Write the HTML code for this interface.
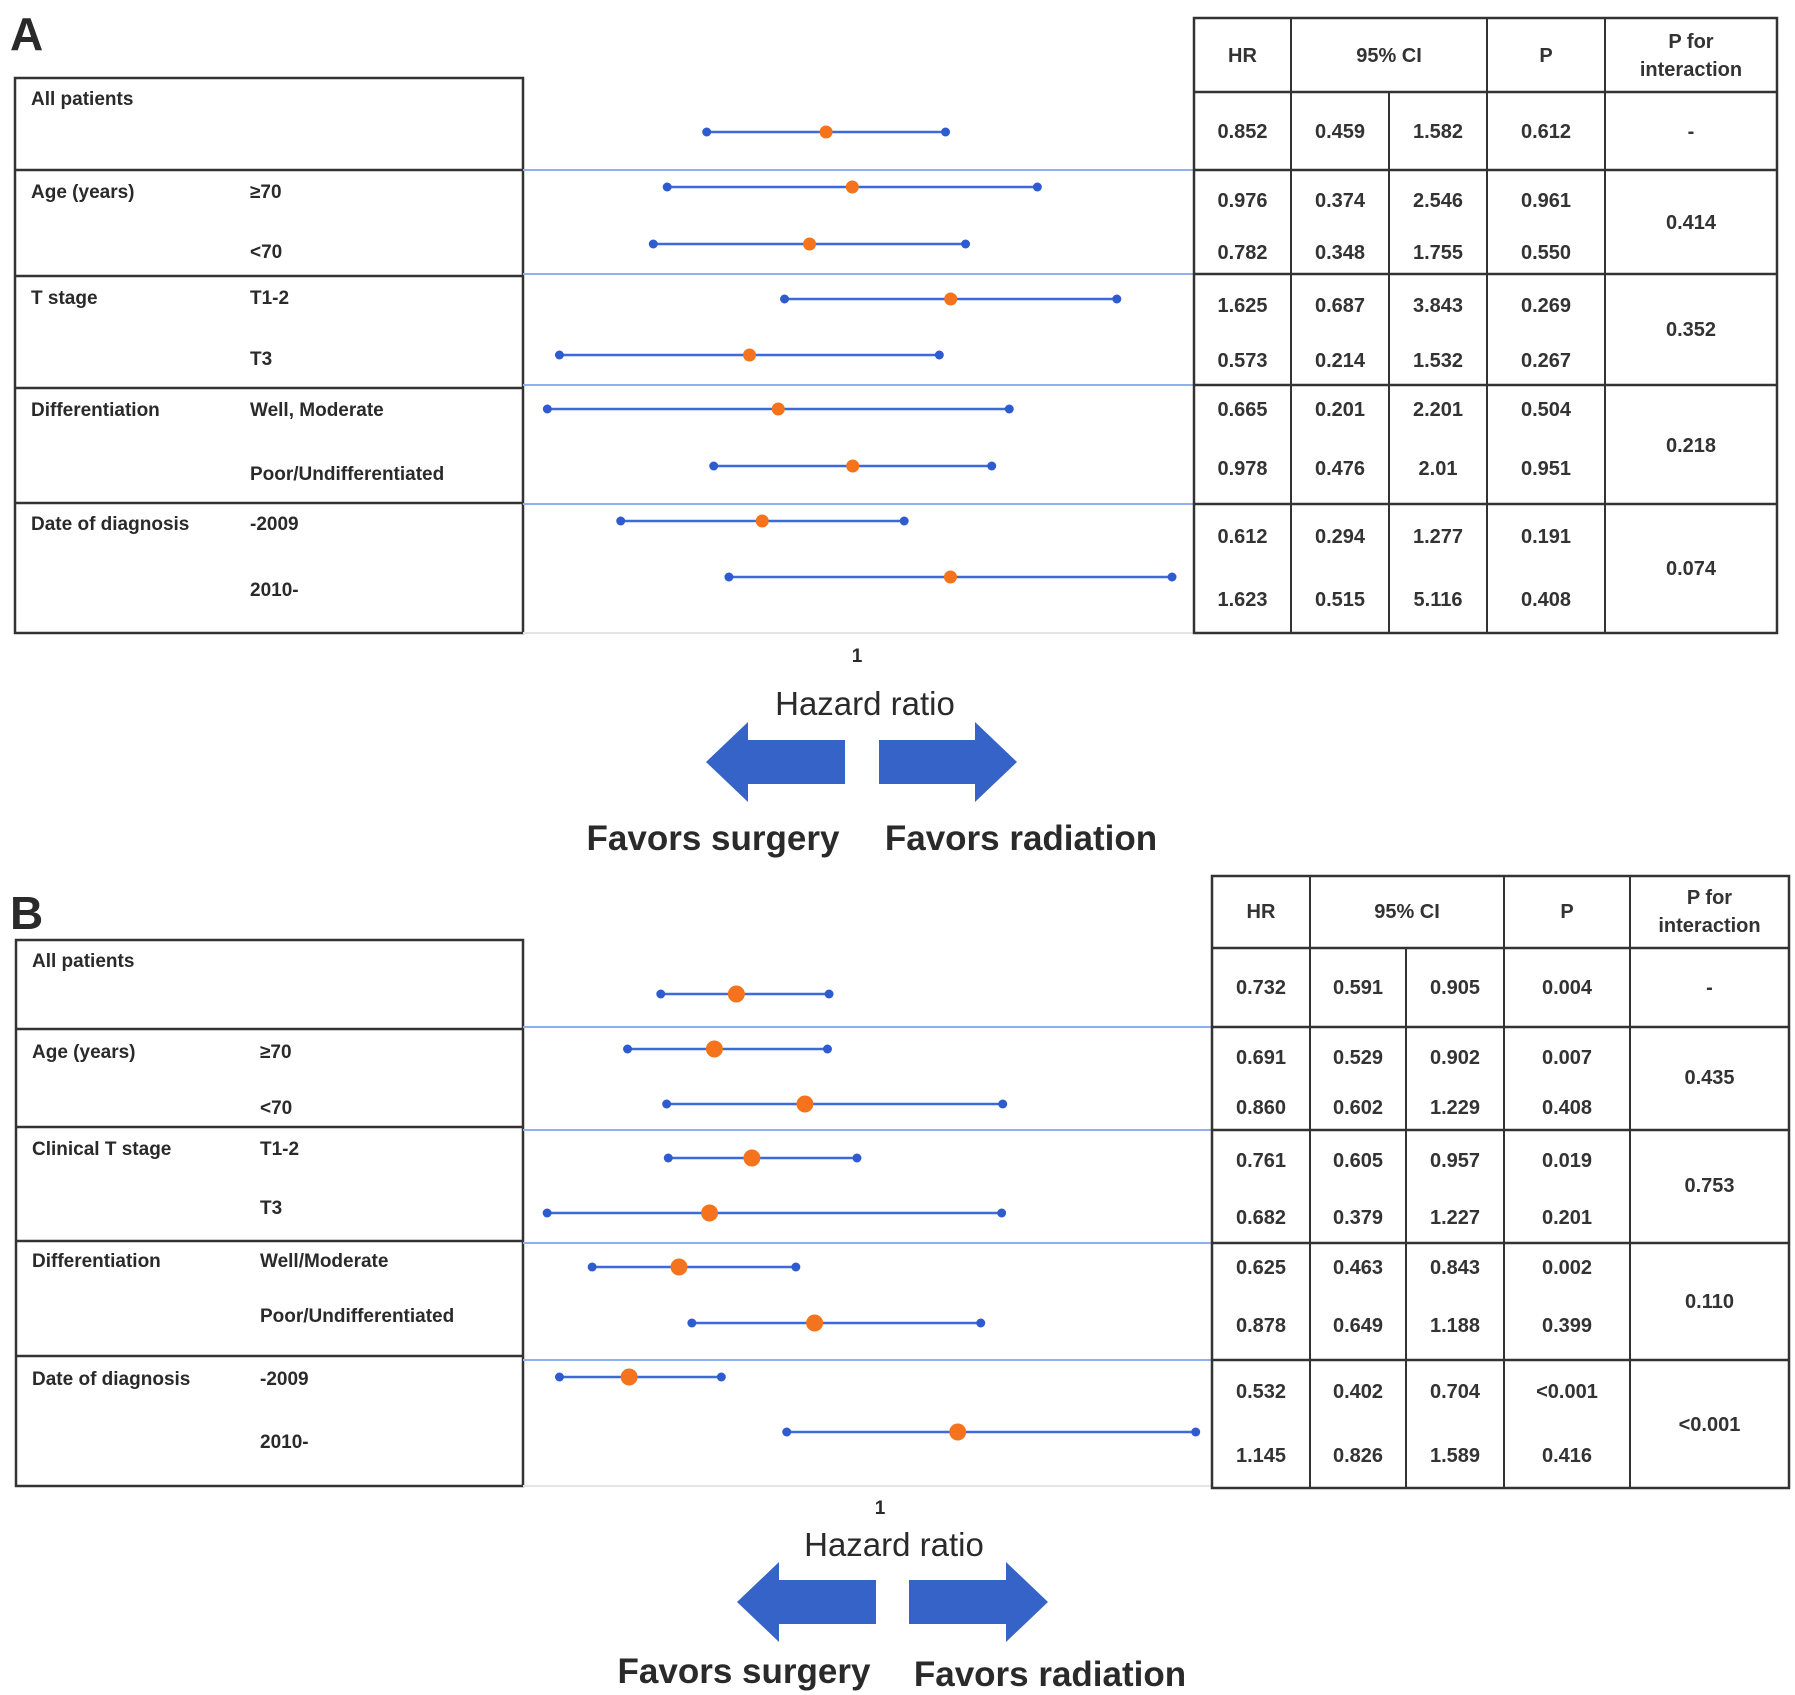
<!DOCTYPE html>
<html><head><meta charset="utf-8"><style>
html,body{margin:0;padding:0;background:#fff;}
svg{display:block;}
text{font-family:"Liberation Sans Narrow","Liberation Sans",sans-serif;fill:#2a2a2a;}
.t{font-size:19px;font-weight:bold;}
.v{font-size:20px;text-anchor:middle;font-weight:bold;fill:#333;}
</style></head><body>
<svg id="fig" width="1795" height="1695" viewBox="0 0 1795 1695" xmlns="http://www.w3.org/2000/svg"></svg>
<script>
// Panel A data
const aHR = [0.852, 0.976, 0.782, 1.625, 0.573, 0.665, 0.978, 0.612, 1.623];
const aLo = [0.459, 0.374, 0.348, 0.687, 0.214, 0.201, 0.476, 0.294, 0.515];
const aHi = [1.582, 2.546, 1.755, 3.843, 1.532, 2.201, 2.01, 1.277, 5.116];
const aP = ["0.612","0.961","0.550","0.269","0.267","0.504","0.951","0.191","0.408"];
const aPint = ["-","0.414","0.352","0.218","0.074"];
const aHRtxt = ["0.852","0.976","0.782","1.625","0.573","0.665","0.978","0.612","1.623"];
const aLoTxt = ["0.459","0.374","0.348","0.687","0.214","0.201","0.476","0.294","0.515"];
const aHiTxt = ["1.582","2.546","1.755","3.843","1.532","2.201","2.01","1.277","5.116"];
const aGroups = ["All patients","Age (years)","T stage","Differentiation","Date of diagnosis"];
const aSubs = ["≥70","<70","T1-2","T3","Well, Moderate","Poor/Undifferentiated","-2009","2010-"];
// Panel B data
const bHR = [0.732, 0.691, 0.860, 0.761, 0.682, 0.625, 0.878, 0.532, 1.145];
const bLo = [0.591, 0.529, 0.602, 0.605, 0.379, 0.463, 0.649, 0.402, 0.826];
const bHi = [0.905, 0.902, 1.229, 0.957, 1.227, 0.843, 1.188, 0.704, 1.589];
const bP = ["0.004","0.007","0.408","0.019","0.201","0.002","0.399","<0.001","0.416"];
const bPint = ["-","0.435","0.753","0.110","<0.001"];
const bHRtxt = ["0.732","0.691","0.860","0.761","0.682","0.625","0.878","0.532","1.145"];
const bLoTxt = ["0.591","0.529","0.602","0.605","0.379","0.463","0.649","0.402","0.826"];
const bHiTxt = ["0.905","0.902","1.229","0.957","1.227","0.843","1.188","0.704","1.589"];
const bGroups = ["All patients","Age (years)","Clinical T stage","Differentiation","Date of diagnosis"];
const bSubs = ["≥70","<70","T1-2","T3","Well/Moderate","Poor/Undifferentiated","-2009","2010-"];

const NS="http://www.w3.org/2000/svg";
const svg=document.getElementById('fig');
function mk(tag,attrs,parent,txt){const e=document.createElementNS(NS,tag);for(const k in attrs)e.setAttribute(k,attrs[k]);if(txt!==undefined)e.textContent=txt;(parent||svg).appendChild(e);return e;}
function line(x1,y1,x2,y2,c,w,p){return mk('line',{x1,y1,x2,y2,stroke:c,'stroke-width':w},p);}
function txt(x,y,s,cls,p,extra){const e=mk('text',Object.assign({x,y,class:cls},extra||{}),p,s);return e;}

function panel(cfg){
  const g=mk('g',{});
  
  
  const L=txt(cfg.letterX,cfg.letterY,cfg.letter,'',g,{'font-size':'46','font-family':'Liberation Sans, sans-serif','font-weight':'bold','fill':'#111'});
  
  
  const lt=mk('g',{},g);
  
  
  const lb=cfg.leftRows;
  mk('rect',{x:cfg.lx0,y:lb[0],width:cfg.lx1-cfg.lx0,height:lb[lb.length-1]-lb[0],fill:'none',stroke:'#333','stroke-width':2.5},lt);
  for(let i=1;i<lb.length-1;i++)line(cfg.lx0,lb[i],cfg.lx1,lb[i],'#333',2.5,lt);
  cfg.groups.forEach((s,i)=>{const t=txt(cfg.labX,cfg.groupY[i],s,'t',lt);});
  cfg.subs.forEach((s,i)=>{const t=txt(cfg.subX,cfg.subY[i],s,'t',lt);});
  cfg.sepY.forEach(y=>line(cfg.lx1,y,cfg.rx[0],y,'#8fb0ee',2,g));
  line(cfg.lx1,lb[lb.length-1],cfg.rx[0],lb[lb.length-1],'#e4e4e4',2,g);
  const fm=mk('g',{},g);
  
  
  cfg.hr.forEach((v,i)=>{
    const y=cfg.rowY[i],xl=cfg.xs(cfg.lo[i]),xh=cfg.xs(cfg.hi[i]),xm=cfg.xs(v);
    const l=line(xl,y,xh,y,'#3d6ad8',2.5,fm);
    
    
    mk('circle',{cx:xl,cy:y,r:4.5,fill:'#2f5bd0'},fm);
    mk('circle',{cx:xh,cy:y,r:4.5,fill:'#2f5bd0'},fm);
    const c=mk('circle',{cx:xm,cy:y,r:cfg.pr,fill:'#f5731c'},fm);
    
    
  });
  const one=txt(cfg.xs(1),cfg.oneY,'1','t',g,{'text-anchor':'middle'});
  
  
  const hz=txt(cfg.hzX,cfg.hzY,'Hazard ratio','',g,{'text-anchor':'middle','font-size':'33','font-family':'DejaVu Sans, sans-serif','fill':'#444'});
  
  
  const a=cfg.arr;
  const la=mk('polygon',{points:`${a.lx1},${a.y0+18} ${a.lx0+42},${a.y0+18} ${a.lx0+42},${a.y0} ${a.lx0},${a.ym} ${a.lx0+42},${a.y1} ${a.lx0+42},${a.y1-18} ${a.lx1},${a.y1-18}`,fill:'#3563c8'},g);
  
  
  const ra=mk('polygon',{points:`${a.rx0},${a.y0+18} ${a.rx1-42},${a.y0+18} ${a.rx1-42},${a.y0} ${a.rx1},${a.ym} ${a.rx1-42},${a.y1} ${a.rx1-42},${a.y1-18} ${a.rx0},${a.y1-18}`,fill:'#3563c8'},g);
  
  
  const fs=txt(cfg.fsX,cfg.fY,'Favors surgery','',g,{'text-anchor':'middle','font-size':'35','font-weight':'bold','fill':'#111'});
  
  
  const fr=txt(cfg.frX,cfg.fY2,'Favors radiation','',g,{'text-anchor':'middle','font-size':'35','font-weight':'bold','fill':'#111'});
  
  
  const rt=mk('g',{},g);
  
  
  const rx=cfg.rx,rr=cfg.rRows;
  mk('rect',{x:rx[0],y:rr[0],width:rx[5]-rx[0],height:rr[rr.length-1]-rr[0],fill:'none',stroke:'#333','stroke-width':2.5},rt);
  [1,3,4].forEach(k=>line(rx[k],rr[0],rx[k],rr[rr.length-1],'#333',2,rt));
  line(rx[2],rr[1],rx[2],rr[rr.length-1],'#333',2,rt);
  for(let i=1;i<rr.length-1;i++)line(rx[0],rr[i],rx[5],rr[i],'#333',2.5,rt);
  const hy=cfg.hdrY;
  txt((rx[0]+rx[1])/2,hy,'HR','v',rt);
  txt((rx[1]+rx[3])/2,hy,'95% CI','v',rt);
  txt((rx[3]+rx[4])/2,hy,'P','v',rt);
  txt((rx[4]+rx[5])/2,hy-14,'P for','v',rt);
  txt((rx[4]+rx[5])/2,hy+14,'interaction','v',rt);
  cfg.hr.forEach((v,i)=>{
    const y=cfg.valY[i]+8;
    txt((rx[0]+rx[1])/2,y,cfg.hrT[i],'v',rt);
    txt((rx[1]+rx[2])/2,y,cfg.loT[i],'v',rt);
    txt((rx[2]+rx[3])/2,y,cfg.hiT[i],'v',rt);
    txt((rx[3]+rx[4])/2,y,cfg.p[i],'v',rt);
  });
  cfg.pint.forEach((s,i)=>txt((rx[4]+rx[5])/2,cfg.pintY[i]+8,s,'v',rt));
}

panel({name:'panel-a',letter:'A',letterX:10,letterY:50,
  lx0:15,lx1:523,leftRows:[78,170,276,388,503,633],labX:31,subX:250,
  groups:aGroups,subs:aSubs,
  groupY:[105,198,304,416,530],subY:[198,258,304,365,416,480,530,596],
  sepY:[170,274,385,504],
  hr:aHR,lo:aLo,hi:aHi,hrT:aHRtxt,loT:aLoTxt,hiT:aHiTxt,p:aP,pint:aPint,
  rowY:[132,187,244,299,355,409,466,521,577],
  xs:v=>857+193*Math.log(v),pr:6.5,
  oneY:662,hzX:865,hzY:715,
  arr:{lx0:706,lx1:845,rx0:879,rx1:1017,y0:722,y1:802,ym:762},
  fsX:713,frX:1021,fY:850,fY2:850,
  rx:[1194,1291,1389,1487,1605,1777],rRows:[18,92,170,274,385,504,633],
  hdrY:62,valY:[130,199,251,304,359,408,467,535,598],pintY:[130,221,328,444,567]});

panel({name:'panel-b',letter:'B',letterX:10,letterY:929,
  lx0:16,lx1:523,leftRows:[940,1029,1127,1241,1356,1486],labX:32,subX:260,
  groups:bGroups,subs:bSubs,
  groupY:[967,1058,1155,1267,1385],subY:[1058,1114,1155,1214,1267,1322,1385,1448],
  sepY:[1027,1130,1243,1360],
  hr:bHR,lo:bLo,hi:bHi,hrT:bHRtxt,loT:bLoTxt,hiT:bHiTxt,p:bP,pint:bPint,
  rowY:[994,1049,1104,1158,1213,1267,1323,1377,1432],
  xs:v=>880+536*(v-1),pr:8.5,
  oneY:1514,hzX:894,hzY:1556,
  arr:{lx0:737,lx1:876,rx0:909,rx1:1048,y0:1562,y1:1642,ym:1602},
  fsX:744,frX:1050,fY:1683,fY2:1686,
  rx:[1212,1310,1406,1504,1630,1789],rRows:[876,948,1027,1130,1243,1360,1488],
  hdrY:918,valY:[986,1056,1106,1159,1216,1266,1324,1390,1454],pintY:[986,1076,1184,1300,1423]});
</script>
</body></html>
